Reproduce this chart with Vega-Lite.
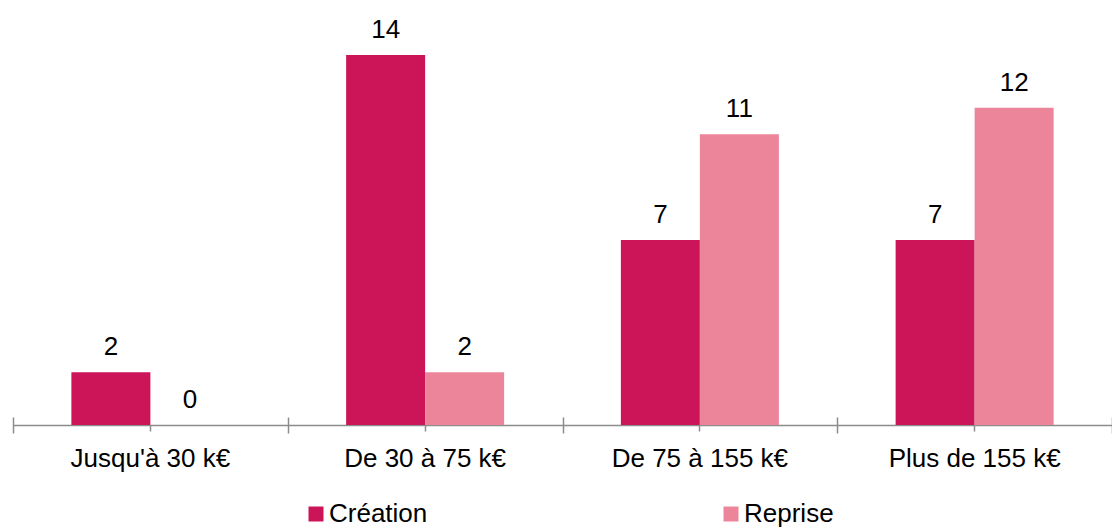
{
  "$schema": "https://vega.github.io/schema/vega-lite/v6.json",
  "width": 1099,
  "height": 423,
  "autosize": {"type": "none"},
  "padding": {"left": 13, "top": 2, "right": 0, "bottom": 103},
  "config": {"view": {"stroke": null}, "font": "Liberation Sans"},
  "data": {
    "values": [
      {"tranche": "Jusqu'à 30 k€", "type": "Création", "valeur": 2},
      {"tranche": "Jusqu'à 30 k€", "type": "Reprise", "valeur": 0},
      {"tranche": "De 30 à 75 k€", "type": "Création", "valeur": 14},
      {"tranche": "De 30 à 75 k€", "type": "Reprise", "valeur": 2},
      {"tranche": "De 75 à 155 k€", "type": "Création", "valeur": 7},
      {"tranche": "De 75 à 155 k€", "type": "Reprise", "valeur": 11},
      {"tranche": "Plus de 155 k€", "type": "Création", "valeur": 7},
      {"tranche": "Plus de 155 k€", "type": "Reprise", "valeur": 12}
    ]
  },
  "encoding": {
    "xOffset": {"field": "type", "type": "nominal", "sort": ["Création", "Reprise"], "scale": {"paddingInner": 0, "paddingOuter": 0.739}},
    "y": {"field": "valeur", "type": "quantitative", "scale": {"domain": [0, 16], "nice": false}, "axis": null}
  },
  "layer": [
    {
      "mark": {"type": "bar"},
      "encoding": {
        "x": {
          "field": "tranche", "type": "nominal",
          "sort": ["Jusqu'à 30 k€", "De 30 à 75 k€", "De 75 à 155 k€", "Plus de 155 k€"],
          "scale": {"paddingInner": 0, "paddingOuter": 0},
          "axis": {
            "title": null, "grid": false, "orient": "bottom", "labelAngle": 0,
            "labelFontSize": 26, "labelColor": "#000000", "labelPadding": 14,
            "domainColor": "#8c8c8c", "domainWidth": 1.5,
            "tickColor": "#8c8c8c", "tickWidth": 1.5, "tickSize": 6
          }
        },
        "color": {
          "field": "type", "type": "nominal",
          "scale": {"domain": ["Création", "Reprise"], "range": ["#CC1559", "#EC849A"]},
          "legend": {
            "title": null, "orient": "none", "direction": "horizontal",
            "legendX": 290, "legendY": 499, "padding": 0,
            "symbolType": "square", "symbolSize": 225, "symbolStrokeWidth": 0,
            "labelFontSize": 26, "labelColor": "#000000", "labelOffset": 0,
            "labelLimit": 300,
            "columnPadding": 290
          }
        }
      }
    },
    {
      "mark": {"type": "text", "baseline": "alphabetic", "dy": -17, "fontSize": 26, "color": "#000000"},
      "encoding": {
        "x": {
          "field": "tranche", "type": "nominal",
          "sort": ["Jusqu'à 30 k€", "De 30 à 75 k€", "De 75 à 155 k€", "Plus de 155 k€"],
          "scale": {"paddingInner": 0, "paddingOuter": 0},
          "axis": {
            "title": null, "grid": false, "orient": "bottom", "offset": -8,
            "tickBand": "extent", "labels": false, "domain": false,
            "tickColor": "#8c8c8c", "tickWidth": 1.5, "tickSize": 16
          }
        },
        "text": {"field": "valeur", "type": "quantitative"}
      }
    }
  ],
  "resolve": {"axis": {"x": "independent"}}
}
